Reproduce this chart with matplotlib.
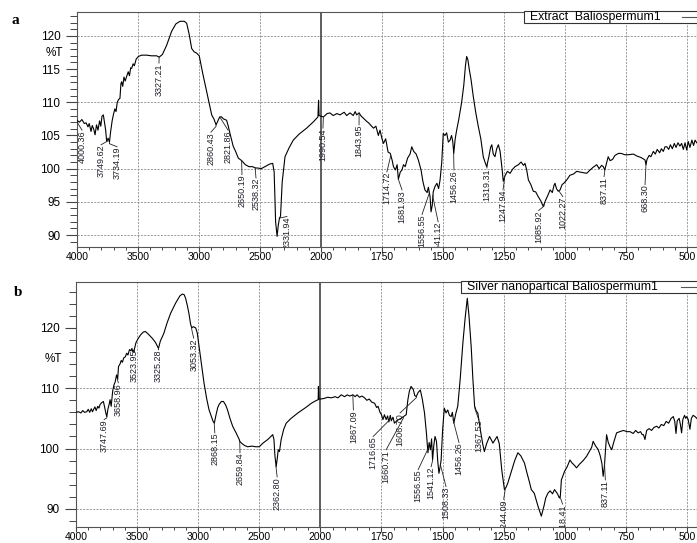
import numpy as np
import matplotlib
matplotlib.use('Agg')
from matplotlib import pyplot as plt
from matplotlib import font_manager
from matplotlib.ticker import FixedLocator
from matplotlib.transforms import blended_transform_factory
from matplotlib.patches import Rectangle

## spectrum a : leaf extract
wn_a = [4000, 3980, 3960, 3940, 3925, 3910, 3900, 3885, 3875, 3862, 3852, 3840, 3828, 3815, 3805, 3795,
        3784, 3775, 3765, 3757, 3745, 3734, 3725, 3712, 3702, 3690, 3680, 3670, 3660, 3648, 3640, 3634,
        3625, 3615, 3605, 3593, 3580, 3570, 3560, 3552, 3540, 3530, 3515, 3497, 3470, 3429, 3390, 3347,
        3327, 3300, 3265, 3224, 3190, 3156, 3120, 3101, 3080, 3060, 3040, 3019, 2998, 2970, 2937, 2915,
        2896, 2878, 2860, 2845, 2830, 2815, 2800, 2774, 2760, 2746, 2720, 2700, 2678, 2650, 2620, 2590,
        2560, 2538, 2520, 2490, 2460, 2420, 2396, 2384, 2372, 2360, 2350, 2340, 2332, 2318, 2295, 2260,
        2227, 2180, 2118, 2060, 2025, 2020, 2016, 2000, 1990, 1975, 1963, 1950, 1935, 1922, 1905, 1895,
        1881, 1868, 1860, 1854, 1844, 1835, 1826, 1815, 1805, 1795, 1785, 1775, 1765, 1758, 1750, 1744,
        1735, 1725, 1716, 1708, 1703, 1695, 1688, 1683, 1675, 1668, 1662, 1655, 1645, 1635, 1628, 1620,
        1610, 1601, 1590, 1582, 1574, 1565, 1560, 1553, 1549, 1544, 1540, 1533, 1525, 1518, 1512, 1505,
        1499, 1492, 1485, 1478, 1471, 1465, 1460, 1456, 1450, 1444, 1435, 1424, 1415, 1408, 1403, 1398,
        1392, 1385, 1376, 1366, 1355, 1345, 1335, 1328, 1321, 1312, 1305, 1300, 1294, 1287, 1280, 1273,
        1266, 1258, 1253, 1245, 1236, 1225, 1215, 1205, 1191, 1180, 1170, 1164, 1157, 1150, 1140, 1130,
        1120, 1110, 1100, 1089, 1080, 1070, 1061, 1052, 1045, 1041, 1035, 1028, 1020, 1012, 1005, 993,
        980, 965, 952, 940, 925, 911, 900, 885, 870, 860, 850, 843, 837, 830, 823, 815,
        805, 795, 781, 770, 755, 740, 720, 705, 690, 680, 672, 668, 664, 655, 648, 638,
        630, 622, 612, 605, 597, 590, 583, 575, 568, 560, 552, 545, 537, 529, 522, 515,
        508, 501, 495, 488, 480, 473, 467, 460]
t_a = [107.3, 107.0, 107.4, 106.8, 106.9, 106.3, 106.8, 105.6, 106.5, 105.9, 105.1, 106.6, 105.8, 107.2, 106.4, 107.9,
       108.1, 107.0, 105.8, 104.1, 104.6, 104.0, 105.5, 107.2, 108.1, 109.0, 108.6, 110.0, 110.4, 110.6, 112.8, 113.1,
       112.4, 113.8, 113.2, 113.9, 114.6, 114.0, 115.2, 115.1, 115.8, 115.5, 116.5, 116.9, 117.1, 117.1, 117.0, 117.0,
       116.8, 117.2, 118.6, 120.7, 121.8, 122.2, 122.2, 121.9, 120.2, 118.1, 117.6, 117.4, 117.0, 114.4, 111.6, 109.7,
       108.1, 107.5, 106.6, 107.2, 107.8, 107.8, 107.5, 107.3, 106.4, 105.3, 103.4, 102.6, 101.6, 101.2, 100.6, 100.3,
       100.3, 100.1, 100.1, 100.0, 100.3, 100.7, 100.8, 99.5, 92.0, 89.8, 91.5, 92.6, 92.8, 98.0, 101.8, 103.2,
       104.3, 105.2, 106.1, 107.1, 107.8, 110.3, 108.0, 107.9, 107.8, 108.3, 108.4, 108.0, 108.3, 108.1, 108.5, 108.0,
       108.4, 108.0, 108.6, 108.1, 108.4, 107.9, 107.6, 107.2, 106.9, 106.5, 106.1, 106.4, 105.0, 105.8, 104.5, 103.8,
       104.5, 102.5, 102.3, 101.2, 100.3, 99.8, 100.6, 98.4, 99.5, 99.8, 100.6, 100.3, 101.6, 102.2, 103.3, 102.6,
       102.2, 101.3, 99.8, 98.0, 96.8, 96.4, 97.2, 95.8, 93.5, 94.5, 96.5, 97.3, 97.8, 97.0, 98.3, 101.0,
       105.3, 105.0, 105.4, 104.0, 104.3, 105.0, 104.1, 102.3, 104.5, 105.8, 107.5, 109.9, 112.5, 115.5, 116.9, 116.4,
       114.9, 113.4, 110.9, 108.5, 106.3, 104.5, 101.8, 101.0, 100.3, 101.8, 103.2, 103.6, 102.2, 101.8, 103.0, 103.6,
       102.6, 100.0, 98.1, 99.0, 99.6, 99.3, 99.9, 100.3, 100.6, 101.0, 100.5, 100.8, 99.8, 98.3, 97.6, 96.6,
       96.5, 95.8, 95.2, 94.3, 95.2, 96.0, 96.8, 96.4, 97.5, 97.8, 97.0, 96.6, 96.8, 97.6, 97.8, 98.3,
       99.0, 99.2, 99.6, 99.5, 99.4, 99.3, 99.7, 100.2, 100.6, 100.0, 100.5, 100.3, 99.8, 100.8, 101.8, 101.2,
       101.4, 102.0, 102.3, 102.3, 102.1, 102.1, 102.2, 101.9, 101.7, 101.5, 101.3, 100.6, 101.4, 102.0, 101.8, 102.6,
       102.2, 102.9, 102.4, 103.0, 102.6, 103.3, 103.3, 102.9, 103.6, 103.0, 103.8, 103.2, 103.9, 103.4, 103.8, 102.9,
       103.9, 102.8, 104.1, 103.2, 104.3, 103.5, 104.3, 103.9]

## spectrum b : silver nanoparticles
wn_b = [4000, 3980, 3960, 3945, 3930, 3912, 3900, 3888, 3875, 3865, 3858, 3845, 3835, 3822, 3812, 3803,
        3790, 3776, 3765, 3755, 3748, 3738, 3728, 3721, 3712, 3700, 3690, 3680, 3668, 3659, 3652, 3640,
        3630, 3620, 3610, 3597, 3585, 3575, 3562, 3550, 3542, 3535, 3524, 3510, 3495, 3473, 3450, 3432,
        3410, 3377, 3350, 3335, 3325, 3310, 3281, 3255, 3226, 3185, 3150, 3130, 3115, 3103, 3090, 3076,
        3062, 3053, 3040, 3021, 3008, 2993, 2972, 2952, 2930, 2911, 2890, 2878, 2868, 2855, 2840, 2829,
        2810, 2793, 2775, 2760, 2740, 2718, 2690, 2664, 2660, 2640, 2620, 2596, 2560, 2530, 2500, 2470,
        2431, 2405, 2390, 2380, 2372, 2362, 2352, 2345, 2335, 2321, 2300, 2280, 2240, 2184, 2120, 2074,
        2040, 2018, 2016, 2012, 2000, 1985, 1970, 1955, 1940, 1928, 1915, 1901, 1890, 1880, 1867, 1858,
        1850, 1840, 1830, 1819, 1810, 1800, 1790, 1778, 1770, 1764, 1756, 1750, 1744, 1738, 1731, 1725,
        1720, 1714, 1710, 1703, 1697, 1688, 1680, 1670, 1660, 1649, 1642, 1636, 1629, 1620, 1614, 1608,
        1600, 1591, 1583, 1574, 1566, 1560, 1555, 1550, 1545, 1541, 1536, 1531, 1525, 1520, 1515, 1510,
        1506, 1500, 1493, 1486, 1479, 1472, 1465, 1460, 1454, 1446, 1438, 1428, 1417, 1408, 1399, 1392,
        1383, 1376, 1369, 1362, 1356, 1345, 1336, 1329, 1320, 1308, 1300, 1294, 1285, 1277, 1268, 1258,
        1247, 1240, 1233, 1220, 1205, 1192, 1180, 1165, 1155, 1145, 1137, 1125, 1110, 1096, 1085, 1078,
        1069, 1060, 1050, 1042, 1030, 1022, 1018, 1014, 1000, 990, 979, 970, 960, 952, 940, 925,
        911, 900, 890, 884, 875, 863, 855, 848, 843, 838, 833, 829, 822, 815, 808, 800,
        788, 775, 760, 745, 733, 720, 710, 700, 690, 683, 678, 672, 665, 655, 645, 635,
        624, 615, 605, 595, 585, 575, 565, 556, 550, 545, 540, 532, 527, 522, 517, 510,
        505, 501, 495, 488, 482, 475, 467, 460]
t_b = [106.0, 106.1, 105.9, 106.3, 106.0, 106.1, 106.5, 106.0, 106.6, 106.1, 106.4, 106.9, 106.3, 107.0, 106.7, 107.3,
       107.6, 107.8, 106.8, 105.8, 105.3, 106.6, 107.4, 108.1, 107.0, 109.5, 110.5, 111.0, 112.2, 111.5, 113.6, 114.0,
       114.6, 114.3, 115.0, 115.2, 115.8, 115.5, 116.4, 116.2, 116.6, 116.0, 116.3, 117.5, 118.1, 118.8, 119.3, 119.4,
       119.0, 118.3, 117.6, 117.0, 116.6, 117.8, 119.1, 120.8, 122.4, 124.1, 125.3, 125.6, 125.5, 124.9, 123.8, 122.4,
       120.6, 120.0, 120.2, 120.0, 119.2, 116.9, 113.8, 110.8, 108.2, 106.4, 105.2, 104.5, 104.2, 105.5, 106.8, 107.3,
       107.8, 107.8, 107.2, 106.4, 105.0, 103.7, 102.6, 101.5, 101.2, 100.8, 100.5, 100.3, 100.4, 100.3, 100.3, 100.9,
       101.5, 102.0, 102.3, 101.5, 98.8, 97.0, 98.5, 99.8, 99.5, 101.5, 103.2, 104.2, 105.0, 105.9, 106.8, 107.5,
       107.9, 108.1, 110.3, 108.2, 108.2, 108.3, 108.5, 108.4, 108.6, 108.4, 108.9, 108.6, 108.9, 108.7, 108.9, 108.6,
       108.9, 108.5, 108.7, 108.4, 108.0, 108.2, 107.7, 107.5, 106.8, 107.0, 106.0, 105.6, 104.8, 105.6, 104.8, 105.4,
       104.4, 105.5, 104.6, 105.2, 104.2, 104.6, 104.8, 105.0, 105.3, 105.6, 108.1, 109.5, 110.3, 109.8, 108.8, 108.6,
       109.3, 109.7, 108.2, 105.9, 102.5, 99.3, 101.0, 99.8, 101.6, 98.1, 100.5, 102.0, 101.2, 98.0, 95.9, 97.0,
       98.1, 103.0, 106.7, 105.9, 106.4, 105.5, 105.3, 106.0, 104.2, 105.8, 107.0, 111.5, 117.5, 121.5, 124.9, 122.0,
       116.9, 111.5, 107.0, 106.2, 105.9, 103.0, 100.8, 99.5, 100.8, 102.0, 101.4, 100.9, 101.5, 102.0, 100.8, 96.5,
       93.2, 93.6, 94.3, 96.0, 98.0, 99.3, 98.8, 97.6, 96.0, 94.5, 93.2, 92.6, 90.5, 88.8, 90.5, 91.8,
       92.6, 93.0, 92.5, 93.2, 92.5, 91.8, 92.2, 94.8, 96.3, 97.0, 98.1, 97.6, 97.2, 96.8, 97.4, 98.0,
       98.7, 99.5, 100.2, 101.2, 100.5, 99.8, 98.8, 97.5, 95.4, 97.0, 100.0, 102.3, 101.0, 100.3, 99.8, 101.0,
       102.6, 102.8, 103.0, 102.8, 102.8, 102.5, 103.0, 102.6, 102.8, 102.3, 102.3, 101.5, 103.0, 103.3, 103.0, 103.5,
       103.7, 103.4, 104.0, 103.8, 104.5, 104.2, 105.0, 105.3, 104.5, 102.5, 104.6, 105.0, 104.0, 102.6, 104.8, 105.5,
       105.0, 105.3, 104.8, 103.2, 105.0, 105.5, 105.3, 105.0]

# peak labels and where their text sits (wavenumber, %T of text top)
peaks_a = ['4000.36', '3749.62', '3734.19', '3327.21', '2860.43', '2821.86', '2650.19', '2538.32', '2331.94',
           '1990.54', '1843.95', '1714.72', '1681.93', '1556.55', '1541.12', '1456.26', '1319.31', '1247.94',
           '1085.92', '1022.27', '837.11', '668.30']
label_pos_a = [(3959, 105.8), (3803, 103.6), (3672, 103.3), (3328, 115.9), (2902, 105.5), (2762, 105.8),
               (2648, 99.1), (2533, 98.6), (2279, 92.8), (1992, 106.1), (1844, 106.6), (1730, 99.5),
               (1668, 96.8), (1586, 93.1), (1520, 92.0), (1455, 99.8), (1320, 100.1), (1254, 96.8),
               (1108, 93.7), (1009, 95.8), (840, 98.8), (672, 97.6)]

peaks_b = ['3747.69', '3658.96', '3523.95', '3325.28', '3053.32', '2868.15', '2659.84', '2362.80', '1867.09',
           '1716.65', '1660.71', '1606.70', '1556.55', '1541.12', '1508.33', '1456.26', '1367.53', '1244.09',
           '1018.41', '837.11']
label_pos_b = [(3770, 104.8), (3654, 110.9), (3523, 116.4), (3325, 116.4), (3037, 118.3), (2864, 102.6),
               (2658, 99.3), (2354, 95.3), (1865, 106.4), (1784, 102.0), (1731, 99.8), (1674, 105.9),
               (1600, 96.5), (1547, 97.0), (1486, 93.7), (1433, 101.0), (1352, 104.8), (1250, 91.6),
               (1009, 90.8), (834, 94.8)]

names = ['Extract  Baliospermum1', 'Silver nanopartical Baliospermum1']

## fonts
installed = {f.name for f in font_manager.fontManager.ttflist}
sans = 'Liberation Sans'
narrow = 'Liberation Sans Narrow' if 'Liberation Sans Narrow' in installed else 'Liberation Sans'
plt.rcParams['font.family'] = [sans, 'DejaVu Sans']


# wavenumber axis is stretched 2x below 2000 cm-1
def fwd(x):
    x = np.asarray(x, dtype=float)
    return np.where(x >= 2000, x, 2 * x - 2000)


def inv(y):
    y = np.asarray(y, dtype=float)
    return np.where(y >= 2000, y, (y + 2000) / 2)


def draw_panel(ax, wn, t, peaks, label_pos, ylim, ymajor, yminor, ygrid, t_label_y, name, box_left):
    ax.set_xscale('function', functions=(fwd, inv))
    ax.set_xlim(4000, 459)
    ax.set_ylim(*ylim)

    ax.plot(wn, t, color='black', lw=0.8, zorder=3)

    # grid
    for g in [3500, 3000, 2500, 1750, 1500, 1250, 1000, 750, 500]:
        ax.axvline(g, color='#8c8c8c', lw=0.6, ls=(0, (2.5, 1.5)), zorder=1)
    for g in ygrid:
        ax.axhline(g, color='#8c8c8c', lw=0.6, ls=(0, (2.5, 1.5)), zorder=1)
    ax.axvline(2000, color='#333333', lw=1.1, zorder=2)

    # ticks
    ax.xaxis.set_major_locator(FixedLocator([4000, 3500, 3000, 2500, 2000, 1750, 1500, 1250, 1000, 750, 500]))
    xminor = [v for v in range(3900, 2000, -100) if v % 500] + [v for v in range(1950, 450, -50) if v % 250]
    ax.xaxis.set_minor_locator(FixedLocator(xminor))
    ax.yaxis.set_major_locator(FixedLocator(ymajor))
    ax.yaxis.set_minor_locator(FixedLocator(yminor))
    ax.tick_params(axis='x', which='major', length=3.5, width=0.8, pad=0.3, labelsize=7.5, color='#444444')
    ax.tick_params(axis='x', which='minor', length=2.5, width=0.7, color='#444444')
    ax.tick_params(axis='y', which='major', length=8, width=0.8, pad=4, labelsize=8.5, color='#444444')
    ax.tick_params(axis='y', which='minor', length=5, width=0.7, color='#444444')
    for s in ax.spines.values():
        s.set_color('#555555')
        s.set_linewidth(0.8)

    trans = blended_transform_factory(ax.transAxes, ax.transData)
    ax.text(-0.023, t_label_y, '%T', transform=trans, ha='right', va='center', fontsize=8.5)

    # peak labels with leaders
    asc_wn = np.asarray(wn)[::-1]
    asc_t = np.asarray(t)[::-1]
    for lab, (tx, ty) in zip(peaks, label_pos):
        px = float(lab)
        py = np.interp(px, asc_wn, asc_t)
        ax.plot([px, px, tx], [py, py - 0.25, ty], color='#222222', lw=0.6, zorder=4)
        ax.text(tx, ty, lab, rotation=90, ha='center', va='top', fontsize=6.5,
                family=narrow, color='#1e1e28', clip_on=True, zorder=4)

    # legend box hanging from the top edge
    ax.add_patch(Rectangle((box_left, 0.955), 1.02 - box_left, 0.05, transform=ax.transAxes,
                           facecolor='white', edgecolor='#333333', lw=0.8, zorder=6, clip_on=False))
    ax.text(box_left + 0.01, 0.979, name, transform=ax.transAxes, ha='left', va='center',
            fontsize=8.8, zorder=7)
    ax.plot([0.975, 1.0], [0.979, 0.979], transform=ax.transAxes, color='#555555', lw=0.8, zorder=7)


fig = plt.figure(figsize=(6.97, 5.43), dpi=100)
ax_a = fig.add_axes([77 / 697, 1 - 247 / 543, 620 / 697, 235 / 543])
ax_b = fig.add_axes([76 / 697, 1 - 527 / 543, 621 / 697, 245 / 543])

draw_panel(ax_a, wn_a, t_a, peaks_a, label_pos_a, (88.2, 123.6),
           [90, 95, 100, 105, 110, 115, 120], [v for v in range(89, 124) if v % 5],
           [120, 110, 100, 95, 90], 117.4, names[0], 0.721)
draw_panel(ax_b, wn_b, t_b, peaks_b, label_pos_b, (87.0, 127.6),
           [90, 100, 110, 120], [88, 92, 94, 96, 98, 102, 104, 106, 108, 112, 114, 116, 118, 122, 124, 126],
           [110, 100, 90], 114.9, names[1], 0.62)

fig.text(12 / 697, 1 - 20 / 543, 'a', fontsize=11, fontweight='bold', family='Liberation Serif',
         ha='left', va='center')
fig.text(14 / 697, 1 - 292 / 543, 'b', fontsize=11, fontweight='bold', family='Liberation Serif',
         ha='left', va='center')

fig.savefig('out.png', dpi=100)
